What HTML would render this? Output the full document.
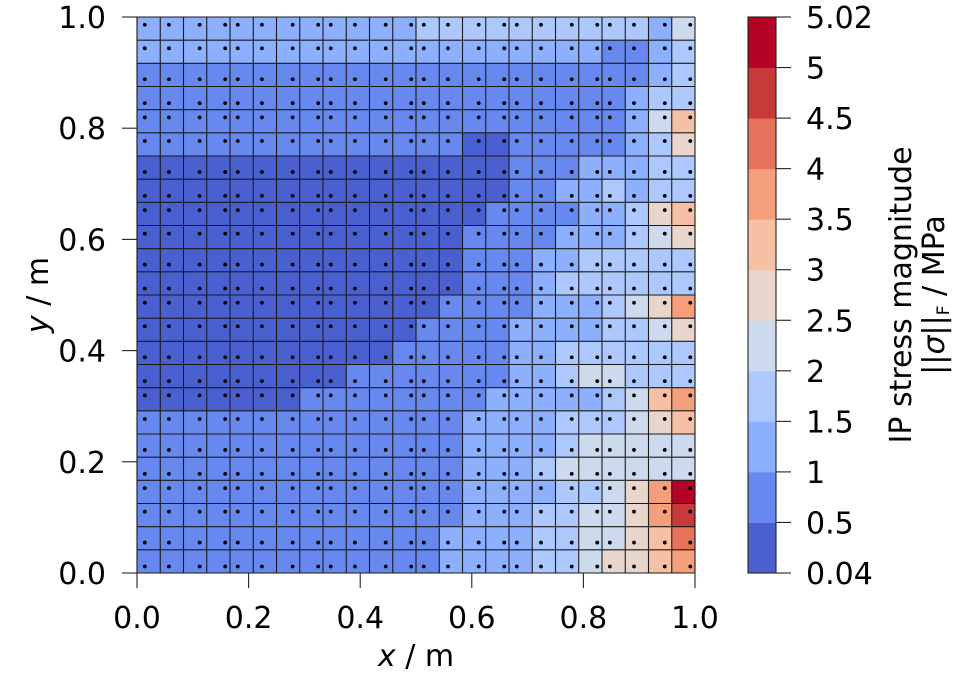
<!DOCTYPE html>
<html><head><meta charset="utf-8"><style>
html,body{margin:0;padding:0;background:#fff;width:975px;height:675px;overflow:hidden}
svg{display:block;font-family:"DejaVu Sans","Liberation Sans",sans-serif}
</style></head><body>
<svg id="chart" width="975" height="675" viewBox="0 0 975 675" xmlns="http://www.w3.org/2000/svg">
<g id="cells"></g>
<g id="grid"></g>
<g id="dots"></g>
<g id="axes"></g>
<g id="cbar"></g>
<text x="416" y="666" font-size="30" text-anchor="middle"><tspan font-style="italic">x</tspan> / m</text>
<text transform="translate(48,295) rotate(-90)" font-size="30" text-anchor="middle"><tspan font-style="italic">y</tspan> / m</text>
<text transform="translate(911,295) rotate(-90)" font-size="30" text-anchor="middle">IP stress magnitude</text>
<text transform="translate(944,295) rotate(-90)" font-size="30" text-anchor="middle">||<tspan font-style="italic">σ</tspan>||<tspan font-size="17" dy="5">F</tspan><tspan dy="-5"> / MPa</tspan></text>
</svg>
<script>
const levels = [0.04,0.5,1,1.5,2,2.5,3,3.5,4,4.5,5,5.02];
const levelColors = ["#4a60d0","#6788ee","#8caffe","#adc8fd","#cdd9ec","#e8d6cc","#f5c0a3","#f49e7c","#e5725a","#c8393a","#b40426"];
const cbTicks = ["0.04","0.5","1","1.5","2","2.5","3","3.5","4","4.5","5","5.02"];
const xTicks = [0,0.2,0.4,0.6,0.8,1.0];
const yTicks = [0,0.2,0.4,0.6,0.8,1.0];
const dotX = [0.0139,0.0572,0.1123,0.158,0.1806,0.2239,0.279,0.3247,0.3473,0.3906,0.4457,0.4914,0.514,0.5573,0.6124,0.6581,0.6807,0.724,0.7791,0.8248,0.8474,0.8907,0.9458,0.9915];
const dotY = [0.9861,0.9437,0.888,0.845,0.8194,0.777,0.7213,0.6783,0.6527,0.6103,0.5547,0.5117,0.4861,0.4437,0.388,0.345,0.3194,0.277,0.2213,0.1783,0.1527,0.1103,0.0547,0.0117];
// cell stress values (MPa), rows from top (y=1) to bottom (y=0), 24 columns each
const row00=[1.3,1.3,1.3,1.3,1.3,1.3,1.3,1.3,1.3,1.3,1.3,1.3,1.8,1.8,1.8,1.8,1.8,1.8,1.8,1.8,1.8,1.8,1.3,2.3];
const row01=[1.3,1.3,1.3,1.3,1.3,1.3,1.3,1.3,1.3,1.3,1.3,1.3,1.3,1.3,1.3,1.3,1.3,1.3,1.3,1.3,0.8,0.8,1.3,1.8];
const row02=[0.8,0.8,0.8,0.8,0.8,0.8,0.8,0.8,0.8,0.8,0.8,0.8,0.8,0.8,0.8,0.8,0.8,0.8,0.8,0.8,0.8,0.8,1.3,1.8];
const row03=[0.8,0.8,0.8,0.8,0.8,0.8,0.8,0.8,0.8,0.8,0.8,0.8,0.8,0.8,0.8,0.8,0.8,0.8,0.8,0.8,0.8,1.3,1.8,1.8];
const row04=[0.8,0.8,0.8,0.8,0.8,0.8,0.8,0.8,0.8,0.8,0.8,0.8,0.8,0.8,0.8,0.8,0.8,0.8,0.8,0.8,0.8,1.3,2.3,3.3];
const row05=[0.8,0.8,0.8,0.8,0.8,0.8,0.8,0.8,0.8,0.8,0.8,0.8,0.8,0.8,0.3,0.3,0.8,0.8,0.8,0.8,0.8,1.3,1.8,2.8];
const row06=[0.3,0.3,0.3,0.3,0.3,0.3,0.3,0.3,0.3,0.3,0.3,0.3,0.3,0.3,0.3,0.3,0.8,0.8,0.8,1.3,1.3,1.3,1.8,1.8];
const row07=[0.3,0.3,0.3,0.3,0.3,0.3,0.3,0.3,0.3,0.3,0.3,0.3,0.3,0.3,0.3,0.3,0.8,0.8,1.3,1.3,1.8,1.3,1.8,1.8];
const row08=[0.3,0.3,0.3,0.3,0.3,0.3,0.3,0.3,0.3,0.3,0.3,0.3,0.3,0.3,0.3,0.8,0.8,0.8,0.8,1.3,1.3,1.8,2.8,3.3];
const row09=[0.3,0.3,0.3,0.3,0.3,0.3,0.3,0.3,0.3,0.3,0.3,0.3,0.3,0.3,0.8,0.8,0.8,0.8,1.3,1.3,1.3,1.8,2.3,2.8];
const row10=[0.3,0.3,0.3,0.3,0.3,0.3,0.3,0.3,0.3,0.3,0.3,0.3,0.3,0.3,0.8,0.8,0.8,1.3,1.3,1.8,1.8,1.8,1.8,1.8];
const row11=[0.3,0.3,0.3,0.3,0.3,0.3,0.3,0.3,0.3,0.3,0.3,0.3,0.3,0.3,0.8,0.8,0.8,1.3,1.8,1.8,1.8,1.8,1.8,1.8];
const row12=[0.3,0.3,0.3,0.3,0.3,0.3,0.3,0.3,0.3,0.3,0.3,0.3,0.3,0.8,0.8,0.8,0.8,1.3,1.3,1.3,1.8,2.3,2.8,3.8];
const row13=[0.3,0.3,0.3,0.3,0.3,0.3,0.3,0.3,0.3,0.3,0.3,0.3,0.8,0.8,0.8,0.8,1.3,1.3,1.3,1.3,1.8,1.8,2.3,2.8];
const row14=[0.3,0.3,0.3,0.3,0.3,0.3,0.3,0.3,0.3,0.3,0.3,0.8,0.8,0.8,0.8,0.8,1.3,1.3,1.8,1.8,1.8,1.8,1.8,1.8];
const row15=[0.3,0.3,0.3,0.3,0.3,0.3,0.3,0.3,0.3,0.8,0.8,0.8,0.8,0.8,0.8,0.8,1.3,1.3,1.8,2.3,2.3,1.8,1.8,1.8];
const row16=[0.3,0.3,0.3,0.3,0.3,0.3,0.3,0.8,0.8,0.8,0.8,0.8,0.8,0.8,0.8,1.3,1.3,1.3,1.3,1.3,1.8,2.3,3.3,3.8];
const row17=[0.8,0.8,0.8,0.8,0.8,0.8,0.8,0.8,0.8,0.8,0.8,0.8,0.8,0.8,1.3,1.3,1.3,1.3,1.8,1.8,1.8,2.3,2.8,3.3];
const row18=[0.8,0.8,0.8,0.8,0.8,0.8,0.8,0.8,0.8,0.8,0.8,0.8,0.8,0.8,1.3,1.3,1.3,1.3,1.8,2.3,2.3,2.3,2.3,2.3];
const row19=[0.8,0.8,0.8,0.8,0.8,0.8,0.8,0.8,0.8,0.8,0.8,0.8,0.8,0.8,1.3,1.3,1.3,1.8,2.3,2.3,2.3,2.3,2.3,2.3];
const row20=[0.8,0.8,0.8,0.8,0.8,0.8,0.8,0.8,0.8,0.8,0.8,0.8,0.8,0.8,1.3,1.3,1.3,1.3,1.8,1.8,2.3,2.8,3.8,5.01];
const row21=[0.8,0.8,0.8,0.8,0.8,0.8,0.8,0.8,0.8,0.8,0.8,0.8,0.8,0.8,1.3,1.3,1.3,1.8,1.8,2.3,2.3,2.8,3.8,4.8];
const row22=[0.8,0.8,0.8,0.8,0.8,0.8,0.8,0.8,0.8,0.8,0.8,0.8,0.8,1.3,1.3,1.3,1.3,1.8,1.8,2.3,2.3,2.8,3.3,4.3];
const row23=[0.8,0.8,0.8,0.8,0.8,0.8,0.8,0.8,0.8,0.8,0.8,0.8,0.8,1.3,1.3,1.3,1.3,1.8,1.8,2.3,2.8,2.8,3.3,3.8];
const stressRows=[row00,row01,row02,row03,row04,row05,row06,row07,row08,row09,row10,row11,row12,row13,row14,row15,row16,row17,row18,row19,row20,row21,row22,row23];

const NS="http://www.w3.org/2000/svg";
const X0=137,X1=695,Y0=573,Y1=17;
const sx=v=>X0+v*(X1-X0);
const sy=v=>Y0-v*(Y0-Y1);
function mk(tag,attrs,parent){const e=document.createElementNS(NS,tag);for(const k in attrs)e.setAttribute(k,attrs[k]);parent.appendChild(e);return e;}
function levelIndex(v){for(let i=levels.length-2;i>=0;i--){if(v>=levels[i])return i;}return 0;}

const nR=stressRows.length, nC=row00.length;
const cellsG=document.getElementById('cells');
stressRows.forEach((row,r)=>{
  row.forEach((v,c)=>{
    const x=sx(c/nC), x2=sx((c+1)/nC), yT=sy(1-r/nR), yB=sy(1-(r+1)/nR);
    const rc=mk('rect',{x:x,y:yT,width:x2-x+0.5,height:yB-yT+0.5,fill:levelColors[levelIndex(v)]},cellsG);
    
    
  });
});
const gridG=document.getElementById('grid');
for(let i=0;i<=nC;i++){
  const l=mk('line',{x1:sx(i/nC),x2:sx(i/nC),y1:Y1,y2:Y0,stroke:"#1a1a1a","stroke-width":1.1},gridG);
  
  
}
for(let j=0;j<=nR;j++){
  const l=mk('line',{x1:X0,x2:X1,y1:sy(j/nR),y2:sy(j/nR),stroke:"#1a1a1a","stroke-width":1.1},gridG);
  
  
}
const dotsG=document.getElementById('dots');
dotY.forEach(yv=>dotX.forEach(xv=>{
  const d=mk('circle',{cx:sx(xv),cy:sy(yv),r:1.9,fill:"#000"},dotsG);
  
  
}));
const axG=document.getElementById('axes');
xTicks.forEach(t=>{
  const l=mk('line',{x1:sx(t),x2:sx(t),y1:Y0,y2:Y0+15,stroke:"#222","stroke-width":1.1},axG);
  
  
  const tx=mk('text',{x:sx(t),y:628,"font-size":30,"text-anchor":"middle"},axG);
  tx.textContent=t.toFixed(1);
  
  
});
yTicks.forEach(t=>{
  const l=mk('line',{x1:X0-15,x2:X0,y1:sy(t),y2:sy(t),stroke:"#222","stroke-width":1.1},axG);
  
  
  const tx=mk('text',{x:106,y:sy(t)+11,"font-size":30,"text-anchor":"end"},axG);
  tx.textContent=t.toFixed(1);
  
  
});
const cbG=document.getElementById('cbar');
const CX=748,CW=28,nL=levelColors.length,segH=(Y0-Y1)/nL;
levelColors.forEach((col,i)=>{
  const r=mk('rect',{x:CX,y:Y0-(i+1)*segH,width:CW,height:segH+0.5,fill:col},cbG);
  
  
});
const fr=mk('rect',{x:CX,y:Y1,width:CW,height:Y0-Y1,fill:"none",stroke:"#222","stroke-width":1.1},cbG);


cbTicks.forEach((lab,i)=>{
  const y=Y0-i*segH;
  const l=mk('line',{x1:CX+CW,x2:CX+CW+15,y1:y,y2:y,stroke:"#222","stroke-width":1.1},cbG);
  
  
  const tx=mk('text',{x:806,y:y+11,"font-size":30},cbG);
  tx.textContent=lab;
  
  
});
</script>
</body></html>
